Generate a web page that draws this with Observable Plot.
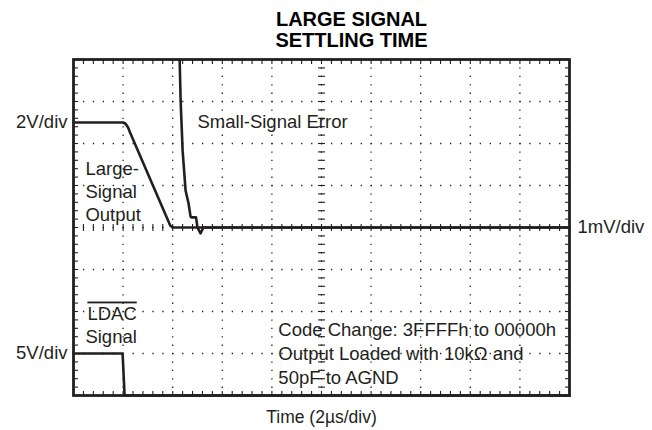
<!DOCTYPE html>
<html>
<head>
<meta charset="utf-8">
<script src="https://cdn.jsdelivr.net/npm/d3@7"></script>
<script src="https://cdn.jsdelivr.net/npm/@observablehq/plot@0.6"></script>
<style>
  html, body { margin: 0; padding: 0; background: #fff; }
</style>
</head>
<body>
<div id="chart"></div>
<script>
// ---- Data (x in time divisions 0..10, y in vertical divisions -4..4) ----
const largeX = [0, 1.0, 1.05, 1.1, 1.14, 1.95, 2.0, 10];
const largeY = [2.5, 2.5, 2.47, 2.38, 2.26, 0.05, 0, 0];

const errorX = [2.13, 2.14, 2.16, 2.2, 2.26, 2.32, 2.36, 2.38, 2.47, 2.5, 2.56, 2.62, 10];
const errorY = [4.5, 4.0, 3.02, 1.83, 0.88, 0.57, 0.26, 0.24, 0.24, 0, -0.14, 0, 0];

const ldacX = [0, 0.99, 1.03, 10];
const ldacY = [-3, -3, -4, -4];

const titleLines = ["LARGE SIGNAL", "SETTLING TIME"];
const xLabel = "Time (2\u00b5s/div)";
const scaleLabels = ["2V/div", "1mV/div", "5V/div"];
const noteLines = ["Code Change: 3FFFFh to 00000h", "Output Loaded with 10k\u03a9 and", "50pF to AGND"];

// graticule
const xDivs = d3.range(0, 11);
const yDivs = d3.range(-4, 5);
const xMinor = d3.range(1, 50).map(i => i / 5);
const yMinor = d3.range(-19, 20).map(i => i / 5);

const toPts = (xs, ys) => xs.map((x, i) => ({x, y: ys[i]}));
const large = toPts(largeX, largeY);
const err = toPts(errorX, errorY);
const ldac = toPts(ldacX, ldacY);

const ink = "#231f20";
const font = "'Liberation Sans', Arial, Helvetica, sans-serif";

const sym = (f) => ({draw(ctx, size) { const r = Math.sqrt(size / Math.PI); f(ctx, r); }});
const tickDown = sym((c, r) => { c.moveTo(0, 0); c.lineTo(0, r); });
const tickUp = sym((c, r) => { c.moveTo(0, 0); c.lineTo(0, -r); });
const tickRight = sym((c, r) => { c.moveTo(0, 0); c.lineTo(r, 0); });
const tickLeft = sym((c, r) => { c.moveTo(0, 0); c.lineTo(-r, 0); });
const tickV = sym((c, r) => { c.moveTo(0, -r); c.lineTo(0, r); });
const tickH = sym((c, r) => { c.moveTo(-r, 0); c.lineTo(r, 0); });

const tickOpts = {stroke: ink, fill: "none", strokeWidth: 1.1};

const plot = Plot.plot({
  width: 652,
  height: 430,
  marginTop: 59,
  marginBottom: 35,
  marginLeft: 73,
  marginRight: 83,
  x: {domain: [0, 10], axis: null},
  y: {domain: [-4, 4], axis: null},
  style: {fontFamily: font, background: "#fff", color: ink},
  marks: [
    // dotted grid
    Plot.ruleX(xDivs.slice(1, -1), {stroke: ink, strokeWidth: 1.3, strokeDasharray: "1.3,7.1"}),
    Plot.ruleY(yDivs.slice(1, -1), {stroke: ink, strokeWidth: 1.3, strokeDasharray: "1.3,8.62"}),
    // edge ticks
    Plot.dot(xMinor, {x: d => d, y: () => 4, symbol: tickDown, r: 4.5, ...tickOpts}),
    Plot.dot(xMinor, {x: d => d, y: () => -4, symbol: tickUp, r: 4.5, ...tickOpts}),
    Plot.dot(yMinor, {x: () => 0, y: d => d, symbol: tickRight, r: 4.5, ...tickOpts}),
    Plot.dot(yMinor, {x: () => 10, y: d => d, symbol: tickLeft, r: 4.5, ...tickOpts}),
    // center-line ticks
    Plot.dot(xMinor, {x: d => d, y: () => 0, symbol: tickV, r: 3.5, ...tickOpts}),
    Plot.dot(yMinor, {x: () => 5, y: d => d, symbol: tickH, r: 3.5, ...tickOpts}),
    // traces
    Plot.line(ldac, {x: "x", y: "y", stroke: ink, strokeWidth: 2.6}),
    Plot.line(large, {x: "x", y: "y", stroke: ink, strokeWidth: 2.6}),
    Plot.line(err, {x: "x", y: "y", stroke: ink, strokeWidth: 2.6, clip: true}),
    // frame
    Plot.frame({stroke: ink, strokeWidth: 2.8}),
    // annotations
    Plot.text([scaleLabels[0]], {x: () => 0, y: () => 2.5, text: d => d, textAnchor: "end", dx: -6, fontSize: 18.5, fill: ink}),
    Plot.text([scaleLabels[2]], {x: () => 0, y: () => -3, text: d => d, textAnchor: "end", dx: -6, fontSize: 18.5, fill: ink}),
    Plot.text([scaleLabels[1]], {x: () => 10, y: () => 0, text: d => d, textAnchor: "start", dx: 8, fontSize: 18.5, fill: ink}),
    Plot.text(["Large-\nSignal\nOutput"], {x: () => 0.24, y: () => 0.88, text: d => d, textAnchor: "start", lineHeight: 1.24, fontSize: 18.5, fill: ink}),
    Plot.text(["Small-Signal Error"], {x: () => 2.5, y: () => 2.5, text: d => d, textAnchor: "start", fontSize: 18.5, fill: ink}),
    Plot.text(["LDAC"], {x: () => 0.28, y: () => -2.05, text: d => d, textAnchor: "start", fontSize: 18.5, fill: ink}),
    Plot.text(["Signal"], {x: () => 0.24, y: () => -2.62, text: d => d, textAnchor: "start", fontSize: 18.5, fill: ink}),
    Plot.text([noteLines.join("\n")], {x: () => 4.13, y: () => -2.98, text: d => d, textAnchor: "start", lineHeight: 1.3, fontSize: 18.5, fill: ink}),
    Plot.text([xLabel], {frameAnchor: "bottom", lineAnchor: "middle", dy: 22, text: d => d, fontSize: 17.5, fill: ink}),
    Plot.text([titleLines.join("\n")], {frameAnchor: "top", lineAnchor: "middle", dy: -30, dx: 30, text: d => d, lineHeight: 1.06, fontSize: 20, fontWeight: "bold", fill: "#000"})
  ]
});

d3.select(plot).selectAll("text").filter(function() { return this.textContent === "LDAC"; })
  .style("text-decoration", "overline");

document.getElementById("chart").appendChild(plot);
</script>
</body>
</html>
